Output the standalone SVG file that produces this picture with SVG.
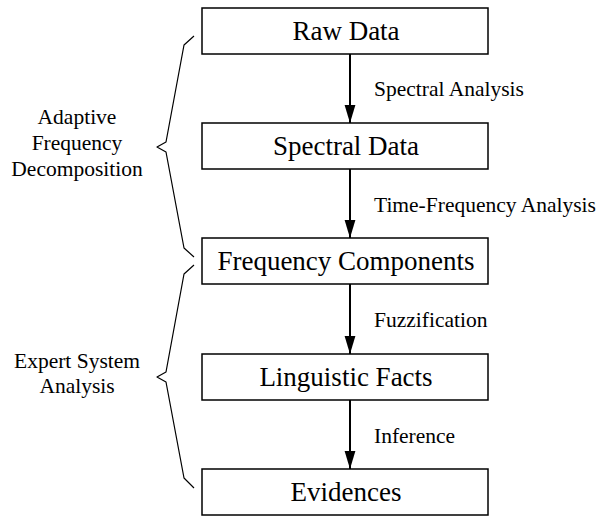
<svg xmlns="http://www.w3.org/2000/svg" width="599" height="516" viewBox="0 0 599 516">
  <defs>
    <style>
      .box { fill: #fff; stroke: #000; stroke-width: 1.5; }
      .node-text { font-family: "Liberation Serif", "Times New Roman", serif; font-size: 27px; text-anchor: middle; fill: #000; }
      .edge-text { font-family: "Liberation Serif", "Times New Roman", serif; font-size: 21.5px; fill: #000; }
      .group-text { font-family: "Liberation Serif", "Times New Roman", serif; font-size: 21.5px; text-anchor: middle; fill: #000; }
      .edge { stroke: #000; stroke-width: 2; fill: none; }
      .brace { stroke: #000; stroke-width: 1.2; fill: none; stroke-linejoin: round; }
    </style>
    <marker id="arrow" markerUnits="userSpaceOnUse" markerWidth="18" markerHeight="30" refX="30" refY="9" orient="auto" viewBox="0 0 30 18">
      <path d="M0,0 L30,9 L0,18 Z" fill="#000"/>
    </marker>
  </defs>

  <!-- process steps -->
  <g id="raw-data">
    <rect class="box" x="202" y="8" width="286" height="46"/>
    <text class="node-text" x="346" y="40">Raw Data</text>
  </g>
  <g id="spectral-data">
    <rect class="box" x="202" y="123" width="286" height="46"/>
    <text class="node-text" x="346" y="155">Spectral Data</text>
  </g>
  <g id="frequency-components">
    <rect class="box" x="202" y="238" width="286" height="46"/>
    <text class="node-text" x="346" y="270">Frequency Components</text>
  </g>
  <g id="linguistic-facts">
    <rect class="box" x="202" y="354" width="286" height="46"/>
    <text class="node-text" x="346" y="386">Linguistic Facts</text>
  </g>
  <g id="evidences">
    <rect class="box" x="202" y="469" width="286" height="46"/>
    <text class="node-text" x="346" y="501">Evidences</text>
  </g>

  <!-- connectors between steps -->
  <g id="connectors">
    <line class="edge" x1="350" y1="54" x2="350" y2="123" marker-end="url(#arrow)"/>
    <line class="edge" x1="350" y1="169" x2="350" y2="238" marker-end="url(#arrow)"/>
    <line class="edge" x1="350" y1="284" x2="350" y2="354" marker-end="url(#arrow)"/>
    <line class="edge" x1="350" y1="400" x2="350" y2="469" marker-end="url(#arrow)"/>
    <text class="edge-text" x="374" y="96">Spectral Analysis</text>
    <text class="edge-text" x="374" y="212">Time-Frequency Analysis</text>
    <text class="edge-text" x="374" y="327">Fuzzification</text>
    <text class="edge-text" x="374" y="443">Inference</text>
  </g>

  <!-- phase groupings -->
  <g id="phase-afd">
    <path class="brace" d="M194,36 L184,45 L166,142 L157,147 L166,152 L184,248 L194,257"/>
    <text class="group-text" x="77" y="124">Adaptive</text>
    <text class="group-text" x="77" y="150">Frequency</text>
    <text class="group-text" x="77" y="176">Decomposition</text>
  </g>
  <g id="phase-esa">
    <path class="brace" d="M194,265 L184,274 L166,372 L157,377 L166,382 L184,478 L194,488"/>
    <text class="group-text" x="77" y="368">Expert System</text>
    <text class="group-text" x="77" y="393">Analysis</text>
  </g>
</svg>
